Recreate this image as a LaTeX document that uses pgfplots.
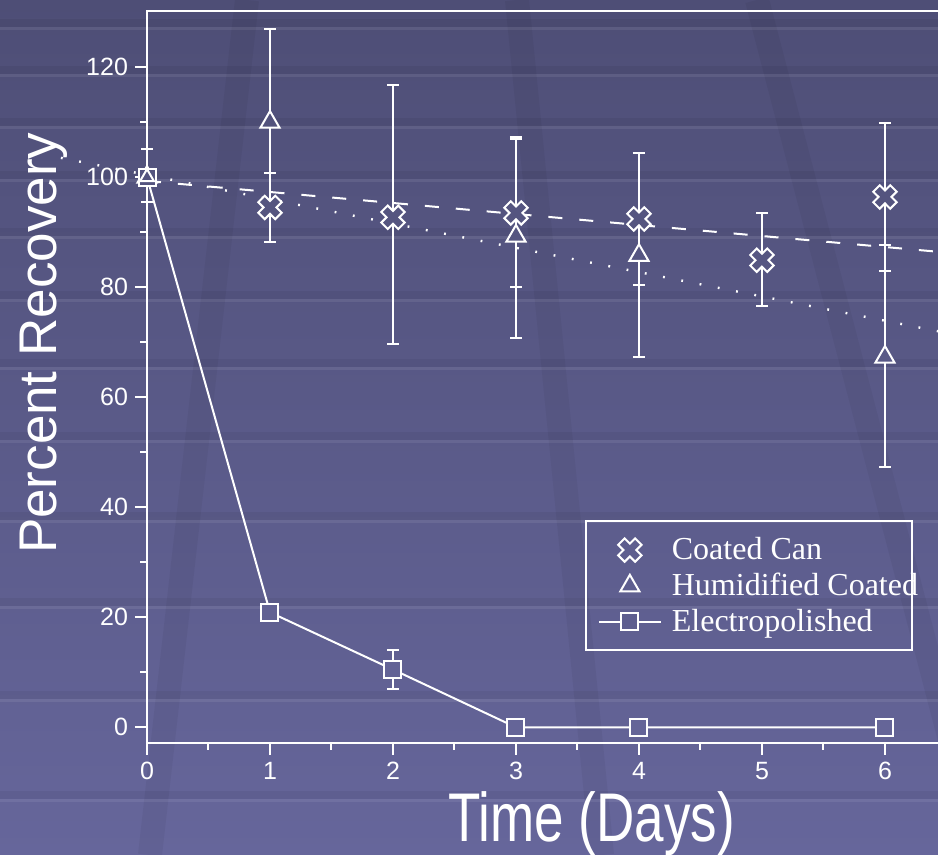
\documentclass[border=0pt]{standalone}
\usepackage{pgfplots}
\pgfplotsset{compat=1.18}
\usepackage{fontspec}
\setmainfont{Liberation Sans}
\newfontfamily\legfont{Liberation Serif}
\definecolor{bgtop}{HTML}{4E4E76}
\definecolor{bgbot}{HTML}{66669B}
\definecolor{legbg}{RGB}{94,94,143}

\pgfdeclareplotmark{hollowX}{%
  \pgfpathmoveto{\pgfpoint{-0.438\pgfplotmarksize}{0.976\pgfplotmarksize}}%
  \pgfpathlineto{\pgfpoint{0\pgfplotmarksize}{0.537\pgfplotmarksize}}%
  \pgfpathlineto{\pgfpoint{0.438\pgfplotmarksize}{0.976\pgfplotmarksize}}%
  \pgfpathlineto{\pgfpoint{0.976\pgfplotmarksize}{0.438\pgfplotmarksize}}%
  \pgfpathlineto{\pgfpoint{0.537\pgfplotmarksize}{0\pgfplotmarksize}}%
  \pgfpathlineto{\pgfpoint{0.976\pgfplotmarksize}{-0.438\pgfplotmarksize}}%
  \pgfpathlineto{\pgfpoint{0.438\pgfplotmarksize}{-0.976\pgfplotmarksize}}%
  \pgfpathlineto{\pgfpoint{0\pgfplotmarksize}{-0.537\pgfplotmarksize}}%
  \pgfpathlineto{\pgfpoint{-0.438\pgfplotmarksize}{-0.976\pgfplotmarksize}}%
  \pgfpathlineto{\pgfpoint{-0.976\pgfplotmarksize}{-0.438\pgfplotmarksize}}%
  \pgfpathlineto{\pgfpoint{-0.537\pgfplotmarksize}{0\pgfplotmarksize}}%
  \pgfpathlineto{\pgfpoint{-0.976\pgfplotmarksize}{0.438\pgfplotmarksize}}%
  \pgfpathclose
  \pgfusepathqfillstroke
}

\pgfplotstableread{
x y ep em
1 94.5 6.3 6.3
2 92.7 24 23
3 93.5 13.5 13.5
4 92.4 12 12
5 84.9 8.6 8.4
6 96.4 13.5 13.5
}\coated

\pgfplotstableread{
x y ep em
0 100 0 0
1 110 17 17
3 89.3 18 18.6
4 85.8 18.5 18.5
6 67.3 20.3 20
}\humid

\pgfplotstableread{
x y ep em
0 100 5.2 4.6
1 20.9 0 0
2 10.5 3.5 3.5
3 0 0 0
4 0 0 0
6 0 0 0
}\electro

\begin{document}
\begin{tikzpicture}
\begin{scope}[x=0.5pt,y=-0.5pt,shift={(0pt,427.5pt)}]
  \shade[top color=bgtop,bottom color=bgbot] (0,0) rectangle (938,855);
  \foreach \yy in {28,75,127,180,237,300,368,441,521,607,700,800} {
    \fill[black,opacity=0.05] (0,\yy-9) rectangle (938,\yy-1);
    \fill[white,opacity=0.08] (0,\yy-1) rectangle (938,\yy+2);
  }
  \draw[line width=12pt,black,opacity=0.045] (247,0) -- (150,855);
  \draw[line width=12pt,black,opacity=0.045] (517,0) -- (602,855);
  \draw[line width=12pt,black,opacity=0.045] (757,0) -- (980,855);
\end{scope}
\begin{axis}[
  at={(73.5pt,56pt)}, anchor=south west,
  scale only axis, width=406.5pt, height=366pt,
  xmin=0, xmax=6.61, ymin=-2.85, ymax=130.2,
  axis line style={white, line width=1pt},
  tick style={white, line width=1pt},
  major tick length=6pt, minor tick length=3.5pt,
  tick align=outside, xtick pos=bottom, ytick pos=left,
  xtick={0,1,2,3,4,5,6}, ytick={0,20,40,60,80,100,120},
  minor x tick num=1, minor y tick num=1,
  ticklabel style={white, font=\fontsize{12.5}{14}\selectfont},
  /pgf/number format/assume math mode=true,
  xlabel={\scalebox{1}[1.3]{Time (Days)}},
  ylabel={Percent Recovery},
  xlabel style={white, font=\fontsize{26.5}{30}\selectfont, at={(axis description cs:0.547,-0.135)}, anchor=base},
  ylabel style={white, font=\fontsize{26.5}{30}\selectfont, at={(axis description cs:-0.1107,0.546)}, anchor=base, rotate=0},
  clip=false,
  colormap={bgmap}{rgb255=(101,101,153) rgb255=(79,79,119)},
  point meta min=-2.85, point meta max=130.2,
  legend image code/.code={\draw[mark repeat=2,mark phase=2,#1] plot coordinates {(0pt,0pt) (15.5pt,0pt) (31pt,0pt)};},
  legend style={at={(axis cs:3.56,37.6)}, anchor=north west, draw=white, line width=1pt, fill=none,
    text=white, font=\legfont\fontsize{16}{17}\selectfont, inner xsep=6pt, inner ysep=6pt,
    row sep=1.2pt, column sep=3pt},
  legend cell align=left,
  error bars/error bar style={white, line width=1pt},
  error bars/error mark options={white, line width=1pt, mark size=3pt, rotate=90},
]
% trend lines
\addplot[white, line width=1pt, dash pattern=on 7pt off 8.5pt, forget plot] coordinates {(0,99.3) (6.61,86.08)};
\addplot[white, line width=1.2pt, dash pattern=on 0.9pt off 8.4pt, forget plot] coordinates {(-0.7,103.5) (6.61,71.2)};
% error bars (behind the markers)
\addplot[white, only marks, mark=none, forget plot, error bars/.cd, y dir=both, y explicit]
  table[x=x, y=y, y error plus=ep, y error minus=em] {\coated};
\addplot[white, only marks, mark=none, forget plot, error bars/.cd, y dir=both, y explicit]
  table[x=x, y=y, y error plus=ep, y error minus=em] {\humid};
\addplot[white, only marks, mark=none, forget plot, error bars/.cd, y dir=both, y explicit]
  table[x=x, y=y, y error plus=ep, y error minus=em] {\electro};
% markers
\addplot[white, only marks, mark=hollowX, mark size=6pt, mark options={line width=1pt, solid},
  scatter, point meta=y, scatter/use mapped color={draw=white, fill=mapped color},
  legend image post style={mark options={draw=white, fill=legbg}}]
  table[x=x, y=y] {\coated};
\addlegendentry{Coated Can}
\addplot[white, only marks, mark=triangle*, mark size=5.5pt, mark options={line width=1pt, solid},
  scatter, point meta=y, scatter/use mapped color={draw=white, fill=mapped color},
  legend image post style={mark options={draw=white, fill=legbg}}]
  table[x=x, y=y] {\humid};
\addlegendentry{\makebox[112pt][l]{Humidified Coated}}
\addplot[white, line width=1pt, mark=square*, mark size=4.25pt, mark options={line width=1pt, solid},
  scatter, point meta=y, scatter/use mapped color={draw=white, fill=mapped color},
  legend image post style={mark options={draw=white, fill=legbg}}]
  table[x=x, y=y] {\electro};
\addlegendentry{Electropolished}
% humidified point at day 0, visible inside the square
\addplot[white, only marks, mark=triangle, mark size=4pt, mark options={line width=1pt, solid}, forget plot]
  coordinates {(0,100)};
\end{axis}
\pgfresetboundingbox
\useasboundingbox (0pt,0pt) rectangle (469pt,427.5pt);
\end{tikzpicture}
\end{document}
